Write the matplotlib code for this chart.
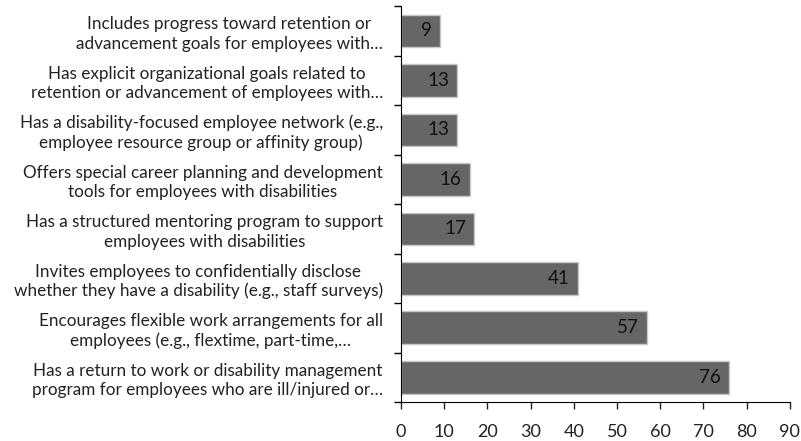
import matplotlib.pyplot as plt
import numpy as np

plt.rcParams['font.family'] = ['Lato', 'DejaVu Sans']

# Practices, listed top to bottom
practices = [
    "Includes progress toward retention or\nadvancement goals for employees with\u2026",
    "Has explicit organizational goals related to\nretention or advancement of employees with\u2026",
    "Has a disability-focused employee network (e.g.,\nemployee resource group or affinity group)",
    "Offers special career planning and development\ntools for employees with disabilities",
    "Has a structured mentoring program to support\nemployees with disabilities",
    "Invites employees to confidentially disclose\nwhether they have a disability (e.g., staff surveys)",
    "Encourages flexible work arrangements for all\nemployees (e.g., flextime, part-time,\u2026",
    "Has a return to work or disability management\nprogram for employees who are ill/injured or\u2026",
]
percent = [9, 13, 13, 16, 17, 41, 57, 76]
x_ticks = list(range(0, 100, 10))

fig = plt.figure(figsize=(8.01, 4.41), dpi=100)
ax = fig.add_axes([0.5006, 0.0884, 0.4855, 0.8976])

y = np.arange(len(practices))
ax.barh(y, percent, height=0.66, color='#666666', edgecolor='#c8c8c8', linewidth=1)

for yi, v in zip(y, percent):
    ax.annotate(str(v), xy=(v, yi), xytext=(-6, 0), textcoords='offset points',
                ha='right', va='center', fontsize=13.5, color='#111111')

ax.set_xlim(0, 90)
ax.set_ylim(len(practices) - 0.5, -0.5)
ax.set_xticks(x_ticks)
ax.tick_params(axis='x', labelsize=13, length=5, width=1, pad=10.5, colors='#222222')

ax.set_yticks(y)
ax.set_yticklabels(practices, fontsize=12.3, multialignment='center',
                   linespacing=1.25, color='#222222')
ax.set_yticks(np.arange(-0.5, len(practices)), minor=True)
ax.tick_params(axis='y', which='major', length=0, pad=13)
ax.tick_params(axis='y', which='minor', length=5, width=1)

for side in ('top', 'right'):
    ax.spines[side].set_visible(False)
ax.spines['left'].set_color('#000000')
ax.spines['bottom'].set_color('#000000')

fig.savefig('out.png', dpi=100)
